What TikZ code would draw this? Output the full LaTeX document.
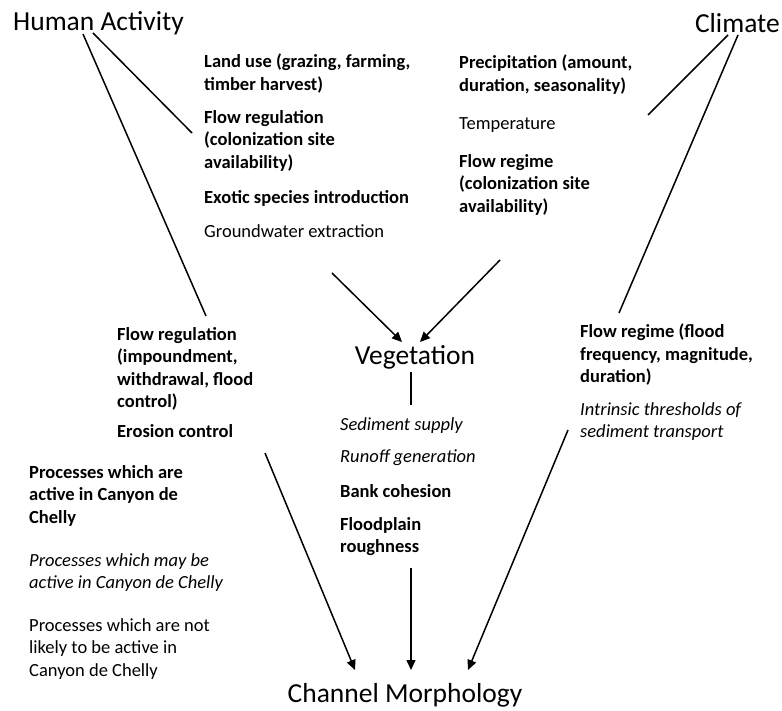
\documentclass[tikz,border=0pt]{standalone}
\usepackage{fontspec}
\setmainfont{Carlito}
\usetikzlibrary{positioning,arrows.meta}

\begin{document}
\begin{tikzpicture}[x=1pt,y=-1pt,
    every node/.style={inner sep=0pt},
    head/.style={font=\fontsize{27.5}{32}\selectfont},
    item/.style={anchor=north west,align=left,font=\fontsize{18.5}{22.5}\selectfont},
    act/.style={item,font=\fontsize{18.5}{22.5}\selectfont\bfseries},
    may/.style={item,font=\fontsize{18.5}{22.5}\selectfont\itshape},
    link/.style={line width=1.5pt},
    flow/.style={link,-{Triangle[length=10pt,width=9pt]}}]
  \useasboundingbox (0,0) rectangle (782,711);

  % the four main boxes
  \node[head,anchor=west] (human) at (13,23.5) {Human Activity};
  \node[head,anchor=east] (climate) at (780,23.5) {Climate};
  \node[head] (veg) at (415,357) {Vegetation};
  \node[head] (channel) at (405,695) {Channel Morphology};

  % human activity -> vegetation
  \node[act] (landuse) at (204,54) {Land use (grazing, farming,\\timber harvest)};
  \node[act] (siteA) at (204,110) {Flow regulation\\(colonization site\\availability)};
  \node[act] (exotic) at (204,190) {Exotic species introduction};
  \node[item] (ground) at (204,224) {Groundwater extraction};

  % climate -> vegetation
  \node[act] (precip) at (459,55) {Precipitation (amount,\\duration, seasonality)};
  \node[item] (temp) at (459,117) {Temperature};
  \node[act] (siteB) at (459,154) {Flow regime\\(colonization site\\availability)};

  % human activity -> channel
  \node[act] (impound) at (117,327) {Flow regulation\\(impoundment,\\withdrawal, flood\\control)};
  \node[act] (erosion) at (117,424) {Erosion control};

  % climate -> channel
  \node[act] (floods) at (580,324) {Flow regime (flood\\frequency, magnitude,\\duration)};
  \node[may] (thresh) at (580,402) {Intrinsic thresholds of\\sediment transport};

  % vegetation -> channel
  \node[may] (sediment) at (340,417) {Sediment supply};
  \node[may] (runoff) at (340,450) {Runoff generation};
  \node[act] (bank) at (340,484) {Bank cohesion};
  \node[act] (rough) at (340,517) {Floodplain\\roughness};

  % key
  \node[act] (keyact) at (29,465) {Processes which are\\active in Canyon de\\Chelly};
  \node[may] (keymay) at (29,553) {Processes which may be\\active in Canyon de Chelly};
  \node[item] (keynot) at (29,618) {Processes which are not\\likely to be active in\\Canyon de Chelly};

  % line ends
  \coordinate (h1) at (83,34);   \coordinate (h1e) at (206,316);
  \coordinate (h2) at (93,33);   \coordinate (h2e) at (192,133);
  \coordinate (c1) at (728,35);  \coordinate (c1e) at (648,115);
  \coordinate (c2) at (738,35);  \coordinate (c2e) at (619,313);
  \coordinate (a1) at (332,273); \coordinate (a1e) at (402,342);
  \coordinate (a2) at (500,260); \coordinate (a2e) at (420,342);
  \coordinate (v1) at (411,372); \coordinate (v1e) at (411,405);
  \coordinate (d1) at (265,453); \coordinate (d1e) at (355,670);
  \coordinate (d2) at (411,568); \coordinate (d2e) at (411,670);
  \coordinate (d3) at (568,430); \coordinate (d3e) at (468,670);

  \draw[link] (h1) -- (h1e);
  \draw[link] (h2) -- (h2e);
  \draw[link] (c1) -- (c1e);
  \draw[link] (c2) -- (c2e);
  \draw[flow] (a1) -- (a1e);
  \draw[flow] (a2) -- (a2e);
  \draw[link] (v1) -- (v1e);
  \draw[flow] (d1) -- (d1e);
  \draw[flow] (d2) -- (d2e);
  \draw[flow] (d3) -- (d3e);
\end{tikzpicture}
\end{document}
